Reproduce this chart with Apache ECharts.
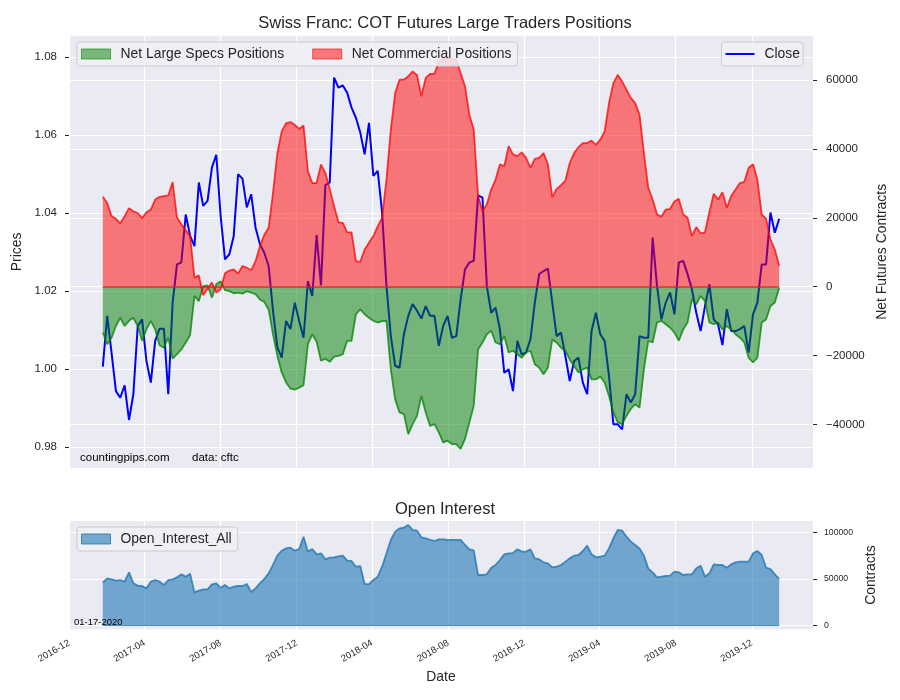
<!DOCTYPE html>
<html>
<head>
<meta charset="utf-8">
<title>Swiss Franc: COT Futures Large Traders Positions</title>
<script src="https://cdn.jsdelivr.net/npm/echarts@6/dist/echarts.min.js"></script>
<style>
html, body { margin: 0; padding: 0; background: #fff; }
#chart { width: 900px; height: 700px; }
</style>
</head>
<body>
<div id="chart"></div>
<script>
// weekly COT reports (Tuesdays), first one
var firstWeek = Date.UTC(2017, 0, 24);

var closePrices = [
    1.0007, 1.0137, 1.0043, 0.9944, 0.9927, 0.9959, 0.9870, 0.9936, 1.0111, 1.0128,
    1.0021, 0.9966, 1.0073, 1.0104, 1.0104, 0.9936, 1.0171, 1.0269, 1.0274, 1.0397,
    1.0342, 1.0316, 1.0479, 1.0419, 1.0432, 1.0517, 1.0550, 1.0393, 1.0282, 1.0295,
    1.0342, 1.0500, 1.0489, 1.0415, 1.0449, 1.0363, 1.0321, 1.0299, 1.0265, 1.0150,
    1.0056, 1.0030, 1.0124, 1.0103, 1.0171, 1.0124, 1.0081, 1.0226, 1.0188, 1.0344,
    1.0215, 1.0472, 1.0479, 1.0748, 1.0722, 1.0728, 1.0709, 1.0671, 1.0645, 1.0607,
    1.0551, 1.0632, 1.0496, 1.0509, 1.0402, 1.0214, 1.0085, 1.0009, 1.0004, 1.0090,
    1.0137, 1.0167, 1.0150, 1.0130, 1.0162, 1.0137, 1.0137, 1.0060, 1.0111, 1.0137,
    1.0081, 1.0085, 1.0179, 1.0256, 1.0274, 1.0278, 1.0446, 1.0440, 1.0214, 1.0145,
    1.0158, 1.0103, 0.9991, 1.0000, 0.9944, 1.0073, 1.0038, 1.0043, 1.0077, 1.0171,
    1.0244, 1.0252, 1.0258, 1.0171, 1.0085, 1.0094, 1.0034, 0.9970, 1.0021, 1.0030,
    0.9966, 0.9936, 1.0098, 1.0145, 1.0090, 1.0073, 0.9983, 0.9859, 0.9859, 0.9846,
    0.9936, 0.9915, 0.9936, 1.0085, 1.0081, 1.0081, 1.0338, 1.0214, 1.0128, 1.0171,
    1.0197, 1.0141, 1.0274, 1.0278, 1.0244, 1.0205, 1.0145, 1.0098, 1.0162, 1.0218,
    1.0128, 1.0115, 1.0062, 1.0154, 1.0098, 1.0098, 1.0103, 1.0111, 1.0043, 1.0141,
    1.0171, 1.0269, 1.0269, 1.0402, 1.0350, 1.0386
];

var largeSpecs = [
    -13300, -16700, -14800, -11400, -9000, -11400, -9900, -9000, -11400, -15700,
    -12400, -9900, -12400, -17000, -17700, -14800, -20900, -19600, -18200, -16200,
    -14100, -2700, -4200, 200, 400, -3200, 700, 1600, -1000, -1300,
    -1900, -1700, -2000, -1300, -1700, -2200, -3700, -4400, -6600, -13800,
    -20100, -24900, -27800, -29600, -29900, -29300, -28600, -16700, -13800, -16000,
    -21500, -20900, -21800, -20300, -20100, -19600, -15700, -15700, -8000, -6600,
    -8000, -9000, -9900, -10400, -10000, -9900, -24000, -32700, -36500, -37000,
    -42800, -39900, -37500, -31700, -36500, -40400, -39900, -42300, -45200, -44700,
    -45700, -45700, -47100, -44200, -39400, -34600, -18200, -16200, -13800, -12800,
    -16200, -16700, -14300, -19100, -18600, -19600, -20600, -19100, -18600, -22500,
    -23500, -25400, -23500, -15300, -16200, -17700, -18600, -21100, -23000, -24900,
    -24000, -23500, -26900, -26900, -26100, -27800, -31700, -36500, -39400, -39900,
    -37500, -35500, -34100, -35100, -24000, -15700, -16200, -10400, -9900, -10900,
    -11900, -13300, -15700, -12400, -10400, -3700, -5100, -2700, -4200, -10400,
    -10900, -10400, -12400, -11400, -12400, -13800, -14800, -16200, -20600, -22000,
    -20600, -10400, -9500, -5600, -4600, -300
];

var commercial = [
    26100, 24300, 20500, 19700, 18400, 20500, 22800, 21900, 21400, 19900,
    21600, 22400, 25300, 26100, 26300, 26500, 30400, 20000, 18100, 16400,
    14700, 2600, 3300, -2500, -600, 1200, -1700, -800, 3900, 4700,
    5000, 3800, 6000, 5500, 4800, 7400, 11800, 15000, 17100, 27200,
    38800, 45100, 47500, 47800, 47000, 45800, 46800, 33500, 30100, 30100,
    35500, 33000, 28400, 23400, 18700, 18500, 15800, 15800, 7400, 7200,
    10800, 12800, 14700, 17600, 20000, 31100, 45600, 56200, 60100, 60100,
    61100, 62500, 61500, 55300, 60600, 61800, 61800, 65400, 66400, 66400,
    66100, 65900, 62000, 58200, 49900, 45600, 26300, 21900, 23900, 28200,
    31100, 35500, 35000, 40800, 38400, 37900, 39000, 37400, 34500, 37100,
    37400, 38800, 35500, 26000, 28400, 29500, 30800, 35900, 38800, 40500,
    41700, 41700, 42400, 41200, 42700, 45100, 53300, 59100, 61500, 59600,
    57200, 54800, 53300, 49900, 38800, 28700, 25300, 21000, 20300, 22400,
    22600, 24800, 25500, 21000, 20000, 14700, 17300, 15500, 15800, 21600,
    27000, 25300, 27400, 22900, 26300, 28200, 30100, 30400, 34500, 35600,
    31100, 21000, 19700, 13700, 10800, 6000
];

var openInterest = [
    46100, 50700, 49600, 48200, 48900, 47100, 57100, 45400, 42900, 42500,
    40000, 47100, 48900, 47100, 43600, 48900, 49600, 51800, 55000, 52500,
    55700, 35700, 37500, 38900, 38900, 44300, 45400, 40700, 43600, 40000,
    41800, 42500, 42500, 44600, 36100, 40000, 45400, 50000, 56100, 65000,
    75000, 80300, 82800, 83600, 80300, 82100, 95300, 79300, 82100, 76400,
    77500, 71100, 72800, 73200, 74300, 75000, 69600, 69300, 63200, 63900,
    44600, 44600, 48900, 52500, 63200, 77500, 91800, 100700, 104300, 105000,
    107800, 102500, 101800, 94600, 93600, 91800, 90700, 92500, 92500, 91800,
    91800, 91800, 91800, 86400, 81800, 80700, 54300, 54300, 55000, 62100,
    65000, 70300, 76400, 77500, 77800, 81800, 79300, 79300, 81800, 72100,
    71100, 67800, 66800, 62500, 63200, 65000, 68600, 72100, 75000, 75700,
    80000, 85700, 76400, 73200, 73900, 75000, 82800, 93600, 102500, 101800,
    95300, 90000, 86400, 82800, 75000, 61400, 57100, 51800, 52500, 53200,
    53600, 57900, 57100, 54300, 55000, 55000, 61400, 64300, 52500, 56100,
    65700, 65000, 65000, 62100, 65700, 67800, 68600, 68600, 68600, 77500,
    80000, 75700, 62100, 60700, 55000, 50000
];

var monthTicks = ['2016-12', '2017-04', '2017-08', '2017-12', '2018-04', '2018-08',
                  '2018-12', '2019-04', '2019-08', '2019-12'];
var priceTicks = [0.98, 1.00, 1.02, 1.04, 1.06, 1.08];
var netTicks = [-40000, -20000, 0, 20000, 40000, 60000];
var oiTicks = [0, 50000, 100000];

var DAY = 86400000;
var dates = [];
for (var i = 0; i < closePrices.length; i++) dates.push(firstWeek + i * 7 * DAY);

function pairs(values) {
    return values.map(function (v, i) { return [dates[i], v]; });
}
var tickTimes = monthTicks.map(function (m) {
    var p = m.split('-');
    return Date.UTC(+p[0], +p[1] - 1, 1);
});
function fmtMonth(v) {
    var d = new Date(v);
    var m = d.getUTCMonth() + 1;
    return d.getUTCFullYear() + '-' + (m < 10 ? '0' + m : m);
}
function fmtPlain(v) { return String(v).replace('-', '\u2212'); }

var FONT = "'Liberation Sans', Arial, sans-serif";
var INK = '#262626';
var xMin = Date.UTC(2016, 10, 30, 18);
var xMax = Date.UTC(2020, 2, 8, 6);
var legendBox = {
    backgroundColor: 'rgba(240,240,246,0.85)',
    borderColor: '#cccccc',
    borderWidth: 1,
    borderRadius: 3
};

var chart = echarts.init(document.getElementById('chart'), null, {renderer: 'canvas'});

var option = {
    animation: false,
    backgroundColor: '#ffffff',
    textStyle: {fontFamily: FONT, color: INK},
    title: [
        {text: 'Swiss Franc: COT Futures Large Traders Positions', left: 440, top: 10, textAlign: 'center',
         textStyle: {fontSize: 16.5, fontWeight: 'normal', color: INK, fontFamily: FONT}},
        {text: 'Open Interest', left: 440, top: 496, textAlign: 'center',
         textStyle: {fontSize: 16.5, fontWeight: 'normal', color: INK, fontFamily: FONT}}
    ],
    legend: [
        Object.assign({
            data: [
                {name: 'Net Large Specs Positions', icon: 'rect',
                 itemStyle: {color: 'rgba(0,128,0,0.5)', borderColor: 'rgba(0,128,0,0.6)', borderWidth: 1}},
                {name: 'Net Commercial Positions', icon: 'rect',
                 itemStyle: {color: 'rgba(255,0,0,0.5)', borderColor: 'rgba(255,0,0,0.6)', borderWidth: 1}}
            ],
            left: 77, top: 42, itemWidth: 29, itemHeight: 10, itemGap: 28,
            padding: [5, 6, 5, 4],
            textStyle: {fontSize: 13.9, color: INK, fontFamily: FONT, padding: [0, 0, 0, 5]}
        }, legendBox),
        Object.assign({
            data: [{name: 'Close', icon: 'rect', itemStyle: {color: '#0000ff'}}],
            right: 97, top: 42, itemWidth: 29, itemHeight: 2,
            padding: [5, 3, 5, 4],
            textStyle: {fontSize: 13.9, color: INK, fontFamily: FONT, padding: [0, 0, 0, 5]}
        }, legendBox),
        Object.assign({
            data: [{name: 'Open_Interest_All', icon: 'rect',
                    itemStyle: {color: 'rgba(31,119,180,0.6)', borderColor: 'rgba(31,119,180,0.8)', borderWidth: 1}}],
            left: 77, top: 527, itemWidth: 29, itemHeight: 10,
            padding: [5, 6, 5, 4],
            textStyle: {fontSize: 13.9, color: INK, fontFamily: FONT, padding: [0, 0, 0, 5]}
        }, legendBox)
    ],
    grid: [
        {left: 69, right: 87, top: 35.7, height: 432.3, show: true, backgroundColor: '#eaeaf2', borderWidth: 0},
        {left: 69, right: 87, top: 521, height: 108.3, show: true, backgroundColor: '#eaeaf2', borderWidth: 0}
    ],
    xAxis: [
        {type: 'value', gridIndex: 0, min: xMin, max: xMax,
         axisLine: {show: false},
         axisTick: {show: false, customValues: tickTimes},
         axisLabel: {show: false, customValues: tickTimes},
         splitLine: {show: true, lineStyle: {color: '#ffffff', width: 1.2}}},
        {type: 'value', gridIndex: 1, min: xMin, max: xMax,
         name: 'Date', nameLocation: 'middle', nameGap: 41,
         nameTextStyle: {fontSize: 13.9, color: INK, fontFamily: FONT},
         axisLine: {show: false},
         axisTick: {show: false, customValues: tickTimes},
         axisLabel: {customValues: tickTimes, formatter: fmtMonth, rotate: 30, margin: 13,
                     fontSize: 9.5, color: INK, fontFamily: FONT},
         splitLine: {show: true, lineStyle: {color: '#ffffff', width: 1.2}}}
    ],
    yAxis: [
        {type: 'value', gridIndex: 0, position: 'left', min: 0.97469, max: 1.08554,
         name: 'Prices', nameLocation: 'middle', nameRotate: 90, nameGap: 38,
         nameTextStyle: {fontSize: 13.9, color: INK, fontFamily: FONT},
         axisLine: {show: false},
         axisTick: {show: true, length: 4, customValues: priceTicks, lineStyle: {color: INK}},
         axisLabel: {customValues: priceTicks, margin: 12, fontSize: 11.5, color: INK, fontFamily: FONT,
                     formatter: function (v) { return v.toFixed(2); }},
         splitLine: {show: true, lineStyle: {color: '#ffffff', width: 1.2}}},
        {type: 'value', gridIndex: 0, position: 'right', min: -52630, max: 72870,
         name: 'Net Futures Contracts', nameLocation: 'middle', nameRotate: 90, nameGap: 51,
         nameTextStyle: {fontSize: 13.9, color: INK, fontFamily: FONT},
         axisLine: {show: false},
         axisTick: {show: true, length: 4, customValues: netTicks, lineStyle: {color: INK}},
         axisLabel: {customValues: netTicks, margin: 13, fontSize: 11.5, color: INK, fontFamily: FONT,
                     formatter: fmtPlain},
         splitLine: {show: true, lineStyle: {color: '#ffffff', width: 1.2}}},
        {type: 'value', gridIndex: 1, position: 'right', min: -3850, max: 112100,
         name: 'Contracts', nameLocation: 'middle', nameRotate: 90, nameGap: 44,
         nameTextStyle: {fontSize: 13.9, color: INK, fontFamily: FONT},
         axisLine: {show: false},
         axisTick: {show: true, length: 4, customValues: oiTicks, lineStyle: {color: INK}},
         axisLabel: {customValues: oiTicks, margin: 11, fontSize: 8.7, color: INK, fontFamily: FONT,
                     formatter: fmtPlain},
         splitLine: {show: true, lineStyle: {color: '#ffffff', width: 1.2}}}
    ],
    series: [
        {name: 'Close', type: 'line', xAxisIndex: 0, yAxisIndex: 0, z: 1,
         data: pairs(closePrices), showSymbol: false, symbol: 'none',
         lineStyle: {color: '#0000ff', width: 2}, itemStyle: {color: '#0000ff'}},
        {name: 'Net Large Specs Positions', type: 'line', xAxisIndex: 0, yAxisIndex: 1, z: 3,
         data: pairs(largeSpecs), showSymbol: false, symbol: 'none',
         lineStyle: {color: 'rgba(0,128,0,0.75)', width: 1.8},
         areaStyle: {color: 'rgba(0,128,0,0.5)', opacity: 1, origin: 0},
         itemStyle: {color: 'rgba(0,128,0,0.5)'}},
        {name: 'Net Commercial Positions', type: 'line', xAxisIndex: 0, yAxisIndex: 1, z: 3,
         data: pairs(commercial), showSymbol: false, symbol: 'none',
         lineStyle: {color: 'rgba(255,0,0,0.75)', width: 1.8},
         areaStyle: {color: 'rgba(255,0,0,0.5)', opacity: 1, origin: 0},
         itemStyle: {color: 'rgba(255,0,0,0.5)'},
         markLine: {silent: true, symbol: 'none', label: {show: false},
                    lineStyle: {color: 'rgba(220,30,30,0.85)', width: 1.5, type: 'solid'},
                    data: [[{coord: [dates[0], 0]}, {coord: [dates[dates.length - 1], 0]}]]}},
        {name: 'Open_Interest_All', type: 'line', xAxisIndex: 1, yAxisIndex: 2, z: 3,
         data: pairs(openInterest), showSymbol: false, symbol: 'none',
         lineStyle: {color: 'rgba(31,119,180,0.8)', width: 1.8},
         areaStyle: {color: 'rgba(31,119,180,0.6)', opacity: 1, origin: 0},
         itemStyle: {color: 'rgba(31,119,180,0.6)'},
         markLine: {silent: true, symbol: 'none', label: {show: false},
                    lineStyle: {color: 'rgba(31,119,180,0.7)', width: 1.2, type: 'solid'},
                    data: [[{coord: [dates[0], 0]}, {coord: [dates[dates.length - 1], 0]}]]}}
    ],
    graphic: [
        {type: 'text', left: 80, top: 452, z: 10,
         style: {text: 'countingpips.com', font: '11.5px ' + FONT, fill: '#000000'}},
        {type: 'text', left: 192, top: 452, z: 10,
         style: {text: 'data: cftc', font: '11.5px ' + FONT, fill: '#000000'}},
        {type: 'text', left: 74, top: 617, z: 10,
         style: {text: '01-17-2020', font: '9.5px ' + FONT, fill: '#000000'}}
    ]
};

chart.setOption(option);
</script>
</body>
</html>
